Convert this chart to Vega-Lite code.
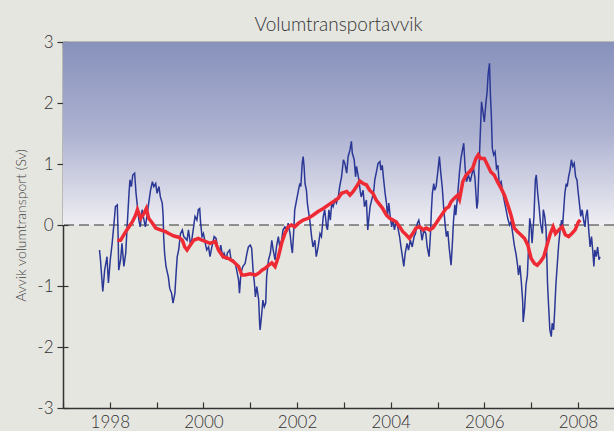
{
  "$schema": "https://vega.github.io/schema/vega-lite/v6.json",
  "width": 551,
  "height": 366,
  "autosize": {"type": "none"},
  "padding": {"left": 63, "top": 42, "right": 0, "bottom": 23},
  "background": "#e6e6e1",
  "config": {"view": {"stroke": null}, "font": "Lato", "axis": {"grid": false}},
  "title": {"text": "Volumtransportavvik", "font": "Lato", "fontSize": 19, "fontWeight": 300, "color": "#333333", "baseline": "alphabetic", "offset": 6, "dy": 23},
  "datasets": {
    "blue": [
      {"t":1997.78,"v":-0.41},{"t":1997.80,"v":-0.57},{"t":1997.85,"v":-1.09},{"t":1997.89,"v":-0.74},{"t":1997.94,"v":-0.52},{"t":1997.97,"v":-0.95},{"t":1998.01,"v":-0.57},{"t":1998.05,"v":-0.30},{"t":1998.09,"v":0.03},{"t":1998.12,"v":0.30},{"t":1998.16,"v":0.33},{"t":1998.18,"v":-0.25},{"t":1998.19,"v":-0.74},{"t":1998.23,"v":-0.57},{"t":1998.26,"v":-0.30},{"t":1998.30,"v":-0.68},{"t":1998.34,"v":-0.46},{"t":1998.37,"v":-0.03},{"t":1998.41,"v":0.52},{"t":1998.43,"v":0.74},{"t":1998.46,"v":0.63},{"t":1998.49,"v":0.82},{"t":1998.53,"v":0.85},{"t":1998.56,"v":0.52},{"t":1998.59,"v":0.30},{"t":1998.62,"v":0.08},{"t":1998.65,"v":-0.03},{"t":1998.69,"v":0.25},{"t":1998.73,"v":0.08},{"t":1998.76,"v":-0.03},{"t":1998.82,"v":0.30},{"t":1998.87,"v":0.57},{"t":1998.91,"v":0.71},{"t":1998.94,"v":0.63},{"t":1998.98,"v":0.68},{"t":1999.01,"v":0.52},{"t":1999.05,"v":0.63},{"t":1999.08,"v":0.46},{"t":1999.12,"v":0.36},{"t":1999.14,"v":0.14},{"t":1999.15,"v":-0.19},{"t":1999.17,"v":-0.46},{"t":1999.20,"v":-0.68},{"t":1999.25,"v":-0.85},{"t":1999.28,"v":-1.04},{"t":1999.32,"v":-1.12},{"t":1999.35,"v":-1.28},{"t":1999.39,"v":-1.12},{"t":1999.42,"v":-0.74},{"t":1999.44,"v":-0.52},{"t":1999.47,"v":-0.41},{"t":1999.51,"v":-0.14},{"t":1999.55,"v":-0.08},{"t":1999.58,"v":-0.19},{"t":1999.65,"v":-0.25},{"t":1999.68,"v":-0.08},{"t":1999.72,"v":-0.30},{"t":1999.75,"v":-0.25},{"t":1999.79,"v":-0.03},{"t":1999.82,"v":0.14},{"t":1999.86,"v":0.08},{"t":1999.89,"v":0.25},{"t":1999.92,"v":0.27},{"t":1999.94,"v":0.03},{"t":1999.97,"v":-0.19},{"t":2000.00,"v":-0.14},{"t":2000.04,"v":-0.30},{"t":2000.07,"v":-0.41},{"t":2000.11,"v":-0.36},{"t":2000.14,"v":-0.52},{"t":2000.18,"v":-0.36},{"t":2000.23,"v":-0.19},{"t":2000.27,"v":-0.22},{"t":2000.30,"v":-0.36},{"t":2000.34,"v":-0.46},{"t":2000.37,"v":-0.33},{"t":2000.41,"v":-0.52},{"t":2000.44,"v":-0.46},{"t":2000.49,"v":-0.57},{"t":2000.51,"v":-0.46},{"t":2000.56,"v":-0.41},{"t":2000.59,"v":-0.57},{"t":2000.63,"v":-0.57},{"t":2000.68,"v":-0.63},{"t":2000.71,"v":-0.74},{"t":2000.75,"v":-0.90},{"t":2000.77,"v":-1.12},{"t":2000.80,"v":-0.79},{"t":2000.84,"v":-0.68},{"t":2000.89,"v":-0.63},{"t":2000.93,"v":-0.46},{"t":2000.96,"v":-0.36},{"t":2001.00,"v":-0.33},{"t":2001.03,"v":-0.38},{"t":2001.06,"v":-0.74},{"t":2001.09,"v":-0.96},{"t":2001.11,"v":-1.18},{"t":2001.14,"v":-1.01},{"t":2001.18,"v":-1.23},{"t":2001.20,"v":-1.61},{"t":2001.21,"v":-1.72},{"t":2001.24,"v":-1.50},{"t":2001.27,"v":-1.23},{"t":2001.30,"v":-1.34},{"t":2001.33,"v":-1.28},{"t":2001.35,"v":-0.85},{"t":2001.39,"v":-0.57},{"t":2001.43,"v":-0.46},{"t":2001.46,"v":-0.25},{"t":2001.49,"v":-0.41},{"t":2001.53,"v":-0.57},{"t":2001.56,"v":-0.36},{"t":2001.60,"v":-0.19},{"t":2001.63,"v":-0.36},{"t":2001.67,"v":-0.25},{"t":2001.70,"v":-0.08},{"t":2001.74,"v":-0.03},{"t":2001.78,"v":-0.08},{"t":2001.81,"v":0.03},{"t":2001.85,"v":-0.14},{"t":2001.88,"v":-0.36},{"t":2001.90,"v":-0.46},{"t":2001.93,"v":-0.08},{"t":2001.95,"v":0.25},{"t":2001.99,"v":0.41},{"t":2002.03,"v":0.57},{"t":2002.06,"v":0.68},{"t":2002.08,"v":0.63},{"t":2002.11,"v":1.01},{"t":2002.13,"v":1.12},{"t":2002.15,"v":0.96},{"t":2002.17,"v":0.68},{"t":2002.20,"v":0.57},{"t":2002.22,"v":0.36},{"t":2002.25,"v":0.19},{"t":2002.28,"v":0.03},{"t":2002.31,"v":-0.19},{"t":2002.34,"v":-0.36},{"t":2002.38,"v":-0.25},{"t":2002.41,"v":-0.52},{"t":2002.45,"v":-0.36},{"t":2002.49,"v":-0.14},{"t":2002.52,"v":-0.19},{"t":2002.56,"v":0.14},{"t":2002.59,"v":0.25},{"t":2002.63,"v":-0.03},{"t":2002.65,"v":-0.08},{"t":2002.68,"v":0.25},{"t":2002.71,"v":0.08},{"t":2002.74,"v":0.36},{"t":2002.77,"v":0.30},{"t":2002.81,"v":0.41},{"t":2002.84,"v":0.36},{"t":2002.88,"v":0.46},{"t":2002.91,"v":0.63},{"t":2002.95,"v":0.79},{"t":2002.99,"v":1.07},{"t":2003.02,"v":1.01},{"t":2003.06,"v":0.85},{"t":2003.09,"v":1.12},{"t":2003.13,"v":1.23},{"t":2003.16,"v":1.37},{"t":2003.18,"v":1.18},{"t":2003.22,"v":1.07},{"t":2003.25,"v":0.79},{"t":2003.27,"v":0.96},{"t":2003.32,"v":0.74},{"t":2003.35,"v":0.55},{"t":2003.37,"v":0.46},{"t":2003.41,"v":0.57},{"t":2003.44,"v":0.30},{"t":2003.48,"v":0.41},{"t":2003.51,"v":-0.08},{"t":2003.53,"v":0.08},{"t":2003.56,"v":0.30},{"t":2003.61,"v":0.46},{"t":2003.64,"v":0.57},{"t":2003.66,"v":0.74},{"t":2003.69,"v":0.85},{"t":2003.73,"v":1.01},{"t":2003.77,"v":1.04},{"t":2003.79,"v":0.90},{"t":2003.82,"v":0.98},{"t":2003.85,"v":0.74},{"t":2003.88,"v":0.52},{"t":2003.91,"v":0.36},{"t":2003.93,"v":0.14},{"t":2003.96,"v":0.36},{"t":2003.99,"v":0.14},{"t":2004.02,"v":-0.03},{"t":2004.05,"v":0.08},{"t":2004.08,"v":-0.08},{"t":2004.12,"v":0.08},{"t":2004.15,"v":-0.03},{"t":2004.19,"v":-0.19},{"t":2004.22,"v":-0.36},{"t":2004.26,"v":-0.57},{"t":2004.28,"v":-0.68},{"t":2004.31,"v":-0.46},{"t":2004.35,"v":-0.30},{"t":2004.38,"v":-0.41},{"t":2004.42,"v":-0.25},{"t":2004.46,"v":-0.36},{"t":2004.50,"v":-0.19},{"t":2004.53,"v":-0.14},{"t":2004.57,"v":0.03},{"t":2004.60,"v":0.08},{"t":2004.64,"v":-0.08},{"t":2004.67,"v":-0.25},{"t":2004.71,"v":-0.08},{"t":2004.75,"v":-0.14},{"t":2004.78,"v":-0.36},{"t":2004.82,"v":-0.52},{"t":2004.85,"v":-0.14},{"t":2004.87,"v":0.25},{"t":2004.89,"v":0.52},{"t":2004.92,"v":0.68},{"t":2004.94,"v":0.57},{"t":2004.97,"v":0.63},{"t":2005.01,"v":0.90},{"t":2005.04,"v":1.12},{"t":2005.07,"v":0.85},{"t":2005.10,"v":0.63},{"t":2005.13,"v":0.30},{"t":2005.16,"v":0.03},{"t":2005.19,"v":-0.19},{"t":2005.22,"v":-0.10},{"t":2005.25,"v":-0.38},{"t":2005.29,"v":-0.66},{"t":2005.32,"v":-0.27},{"t":2005.34,"v":0.05},{"t":2005.37,"v":0.33},{"t":2005.39,"v":0.16},{"t":2005.43,"v":0.49},{"t":2005.47,"v":0.87},{"t":2005.50,"v":1.09},{"t":2005.54,"v":1.26},{"t":2005.56,"v":1.34},{"t":2005.59,"v":0.93},{"t":2005.62,"v":0.71},{"t":2005.66,"v":0.82},{"t":2005.70,"v":0.71},{"t":2005.73,"v":0.82},{"t":2005.77,"v":0.93},{"t":2005.80,"v":0.77},{"t":2005.84,"v":0.27},{"t":2005.86,"v":0.38},{"t":2005.88,"v":0.82},{"t":2005.91,"v":1.42},{"t":2005.94,"v":2.02},{"t":2005.97,"v":1.86},{"t":2006.00,"v":1.69},{"t":2006.03,"v":1.97},{"t":2006.06,"v":2.19},{"t":2006.08,"v":2.46},{"t":2006.11,"v":2.65},{"t":2006.13,"v":2.13},{"t":2006.15,"v":1.80},{"t":2006.17,"v":1.26},{"t":2006.20,"v":1.15},{"t":2006.23,"v":1.20},{"t":2006.26,"v":0.93},{"t":2006.29,"v":0.98},{"t":2006.32,"v":0.66},{"t":2006.36,"v":0.71},{"t":2006.39,"v":0.55},{"t":2006.43,"v":0.38},{"t":2006.46,"v":0.27},{"t":2006.50,"v":0.11},{"t":2006.54,"v":0.00},{"t":2006.57,"v":0.05},{"t":2006.61,"v":-0.16},{"t":2006.64,"v":-0.33},{"t":2006.68,"v":-0.49},{"t":2006.71,"v":-0.66},{"t":2006.73,"v":-0.82},{"t":2006.76,"v":-0.66},{"t":2006.79,"v":-0.93},{"t":2006.82,"v":-1.26},{"t":2006.83,"v":-1.59},{"t":2006.86,"v":-1.37},{"t":2006.89,"v":-0.98},{"t":2006.92,"v":-0.82},{"t":2006.95,"v":-0.27},{"t":2006.97,"v":0.11},{"t":2007.00,"v":-0.05},{"t":2007.02,"v":-0.30},{"t":2007.06,"v":0.14},{"t":2007.09,"v":0.74},{"t":2007.11,"v":0.82},{"t":2007.14,"v":0.52},{"t":2007.17,"v":0.30},{"t":2007.20,"v":0.03},{"t":2007.24,"v":-0.14},{"t":2007.26,"v":0.25},{"t":2007.29,"v":0.14},{"t":2007.32,"v":-0.08},{"t":2007.35,"v":-0.96},{"t":2007.37,"v":-1.28},{"t":2007.40,"v":-1.72},{"t":2007.43,"v":-1.83},{"t":2007.45,"v":-1.61},{"t":2007.48,"v":-1.72},{"t":2007.50,"v":-1.45},{"t":2007.53,"v":-0.96},{"t":2007.56,"v":-0.63},{"t":2007.59,"v":-0.30},{"t":2007.62,"v":-0.08},{"t":2007.65,"v":0.08},{"t":2007.67,"v":-0.03},{"t":2007.70,"v":0.30},{"t":2007.72,"v":0.52},{"t":2007.75,"v":0.68},{"t":2007.77,"v":0.63},{"t":2007.80,"v":0.79},{"t":2007.83,"v":0.90},{"t":2007.86,"v":1.07},{"t":2007.89,"v":0.96},{"t":2007.92,"v":1.01},{"t":2007.95,"v":0.79},{"t":2007.98,"v":0.74},{"t":2008.00,"v":0.57},{"t":2008.03,"v":0.36},{"t":2008.06,"v":0.14},{"t":2008.09,"v":0.25},{"t":2008.12,"v":0.08},{"t":2008.15,"v":-0.03},{"t":2008.17,"v":0.14},{"t":2008.20,"v":0.25},{"t":2008.23,"v":-0.08},{"t":2008.26,"v":-0.36},{"t":2008.29,"v":-0.19},{"t":2008.32,"v":-0.46},{"t":2008.34,"v":-0.68},{"t":2008.36,"v":-0.41},{"t":2008.39,"v":-0.52},{"t":2008.42,"v":-0.36},{"t":2008.45,"v":-0.57},{"t":2008.47,"v":-0.52}
    ],
    "red": [
      {"t":1998.16,"v":-0.25},{"t":1998.23,"v":-0.25},{"t":1998.34,"v":-0.11},{"t":1998.41,"v":-0.03},{"t":1998.48,"v":0.05},{"t":1998.55,"v":0.16},{"t":1998.59,"v":0.25},{"t":1998.66,"v":0.11},{"t":1998.73,"v":0.19},{"t":1998.78,"v":0.27},{"t":1998.83,"v":0.11},{"t":1998.91,"v":0.03},{"t":1998.98,"v":-0.05},{"t":1999.08,"v":-0.08},{"t":1999.19,"v":-0.11},{"t":1999.26,"v":-0.14},{"t":1999.37,"v":-0.18},{"t":1999.47,"v":-0.20},{"t":1999.55,"v":-0.25},{"t":1999.60,"v":-0.36},{"t":1999.65,"v":-0.41},{"t":1999.72,"v":-0.33},{"t":1999.79,"v":-0.25},{"t":1999.89,"v":-0.22},{"t":1999.97,"v":-0.25},{"t":2000.04,"v":-0.27},{"t":2000.14,"v":-0.30},{"t":2000.25,"v":-0.27},{"t":2000.32,"v":-0.41},{"t":2000.42,"v":-0.52},{"t":2000.54,"v":-0.55},{"t":2000.64,"v":-0.60},{"t":2000.75,"v":-0.68},{"t":2000.82,"v":-0.82},{"t":2000.89,"v":-0.82},{"t":2001.00,"v":-0.80},{"t":2001.11,"v":-0.82},{"t":2001.18,"v":-0.79},{"t":2001.25,"v":-0.74},{"t":2001.32,"v":-0.71},{"t":2001.39,"v":-0.66},{"t":2001.46,"v":-0.62},{"t":2001.53,"v":-0.68},{"t":2001.60,"v":-0.52},{"t":2001.67,"v":-0.30},{"t":2001.74,"v":-0.14},{"t":2001.81,"v":-0.03},{"t":2001.88,"v":0.00},{"t":2001.95,"v":-0.03},{"t":2002.03,"v":0.03},{"t":2002.13,"v":0.08},{"t":2002.24,"v":0.11},{"t":2002.34,"v":0.16},{"t":2002.45,"v":0.22},{"t":2002.56,"v":0.27},{"t":2002.67,"v":0.33},{"t":2002.77,"v":0.38},{"t":2002.88,"v":0.44},{"t":2002.95,"v":0.52},{"t":2003.06,"v":0.55},{"t":2003.13,"v":0.49},{"t":2003.20,"v":0.55},{"t":2003.27,"v":0.63},{"t":2003.34,"v":0.72},{"t":2003.41,"v":0.68},{"t":2003.48,"v":0.66},{"t":2003.55,"v":0.57},{"t":2003.62,"v":0.52},{"t":2003.69,"v":0.41},{"t":2003.77,"v":0.33},{"t":2003.83,"v":0.27},{"t":2003.91,"v":0.16},{"t":2003.98,"v":0.11},{"t":2004.05,"v":0.08},{"t":2004.12,"v":0.05},{"t":2004.19,"v":-0.03},{"t":2004.26,"v":-0.11},{"t":2004.33,"v":-0.16},{"t":2004.40,"v":-0.22},{"t":2004.47,"v":-0.14},{"t":2004.54,"v":-0.05},{"t":2004.62,"v":-0.03},{"t":2004.69,"v":-0.08},{"t":2004.76,"v":-0.05},{"t":2004.83,"v":-0.08},{"t":2004.90,"v":-0.05},{"t":2004.97,"v":0.03},{"t":2005.04,"v":0.11},{"t":2005.11,"v":0.19},{"t":2005.18,"v":0.27},{"t":2005.24,"v":0.30},{"t":2005.29,"v":0.38},{"t":2005.36,"v":0.44},{"t":2005.43,"v":0.49},{"t":2005.47,"v":0.42},{"t":2005.54,"v":0.71},{"t":2005.61,"v":0.82},{"t":2005.68,"v":0.87},{"t":2005.75,"v":0.93},{"t":2005.82,"v":1.09},{"t":2005.87,"v":1.15},{"t":2005.92,"v":1.09},{"t":2006.00,"v":1.09},{"t":2006.07,"v":0.98},{"t":2006.14,"v":0.87},{"t":2006.21,"v":0.82},{"t":2006.28,"v":0.71},{"t":2006.36,"v":0.60},{"t":2006.43,"v":0.49},{"t":2006.50,"v":0.33},{"t":2006.57,"v":0.16},{"t":2006.64,"v":-0.05},{"t":2006.71,"v":-0.11},{"t":2006.78,"v":-0.16},{"t":2006.86,"v":-0.22},{"t":2006.93,"v":-0.33},{"t":2007.00,"v":-0.55},{"t":2007.07,"v":-0.63},{"t":2007.13,"v":-0.66},{"t":2007.20,"v":-0.60},{"t":2007.27,"v":-0.52},{"t":2007.35,"v":-0.30},{"t":2007.41,"v":-0.14},{"t":2007.47,"v":-0.03},{"t":2007.52,"v":-0.14},{"t":2007.59,"v":-0.08},{"t":2007.66,"v":-0.03},{"t":2007.73,"v":-0.16},{"t":2007.80,"v":-0.19},{"t":2007.87,"v":-0.14},{"t":2007.94,"v":-0.08},{"t":2008.01,"v":0.05},{"t":2008.05,"v":0.08}
    ]
  },
  "layer": [
    {
      "data": {"values": [{}]},
      "mark": {"type": "rect", "fill": {"gradient": "linear", "x1": 0, "y1": 0, "x2": 0, "y2": 1, "stops": [{"offset": 0, "color": "#8791bb"}, {"offset": 0.5, "color": "#adb2d1"}, {"offset": 1, "color": "#efeef3"}]}},
      "encoding": {
        "y": {"datum": 3, "type": "quantitative", "scale": {"domain": [-3, 3], "nice": false}, "axis": null},
        "y2": {"datum": 0}
      }
    },
    {
      "data": {"values": [{}]},
      "mark": {"type": "rule", "color": "#333333", "strokeWidth": 1.2, "strokeDash": [10, 5]},
      "encoding": {
        "y": {"datum": 0, "type": "quantitative", "axis": null}
      }
    },
    {
      "data": {"name": "blue"},
      "mark": {"type": "line", "color": "#2b3896", "strokeWidth": 1.5},
      "encoding": {
        "x": {"field": "t", "type": "quantitative", "scale": {"domain": [1997, 2008.77], "nice": false, "zero": false},
              "axis": {"orient": "bottom", "title": null, "values": [1997,1998,1999,2000,2001,2002,2003,2004,2005,2006,2007,2008], "labelExpr": "datum.value % 2 == 0 ? '' + datum.value : ''", "labelOverlap": false, "labelFlush": false, "tickSize": -6, "labelPadding": 12, "domainColor": "#333333", "domainWidth": 1.5, "tickColor": "#333333", "tickWidth": 1.2, "labelFont": "Lato", "labelFontWeight": 300, "labelFontSize": 17, "labelColor": "#333333", "minExtent": 0}},
        "y": {"field": "v", "type": "quantitative", "scale": {"domain": [-3, 3], "nice": false},
              "axis": {"orient": "left", "title": "Avvik volumtransport (Sv)", "values": [-3,-2,-1,0,1,2,3], "labelExpr": "'' + datum.value", "tickSize": 6, "labelPadding": 4, "domainColor": "#333333", "domainWidth": 1.5, "tickColor": "#333333", "tickWidth": 1.2, "labelFont": "Lato", "labelFontWeight": 300, "labelFontSize": 17, "labelColor": "#333333", "titleFont": "Lato", "titleFontWeight": 300, "titleFontSize": 14, "titleColor": "#444444", "titlePadding": 8}}
      }
    },
    {
      "data": {"name": "red"},
      "mark": {"type": "line", "color": "#ee2a35", "strokeWidth": 3.5},
      "encoding": {
        "x": {"field": "t", "type": "quantitative",
              "axis": {"orient": "top", "title": null, "values": [1997,1998,1999,2000,2001,2002,2003,2004,2005,2006,2007,2008], "labels": false, "tickSize": -6, "domainColor": "#333333", "domainWidth": 1.5, "tickColor": "#333333", "tickWidth": 1.2, "minExtent": 0, "maxExtent": 0}},
        "y": {"field": "v", "type": "quantitative",
              "axis": {"orient": "left", "title": null, "values": [-3,-2,-1,0,1,2,3], "labels": false, "domain": false, "tickSize": -5, "tickColor": "#333333", "tickWidth": 1.2, "minExtent": 0, "maxExtent": 0}}
      }
    }
  ],
  "resolve": {"axis": {"x": "independent", "y": "independent"}}
}
